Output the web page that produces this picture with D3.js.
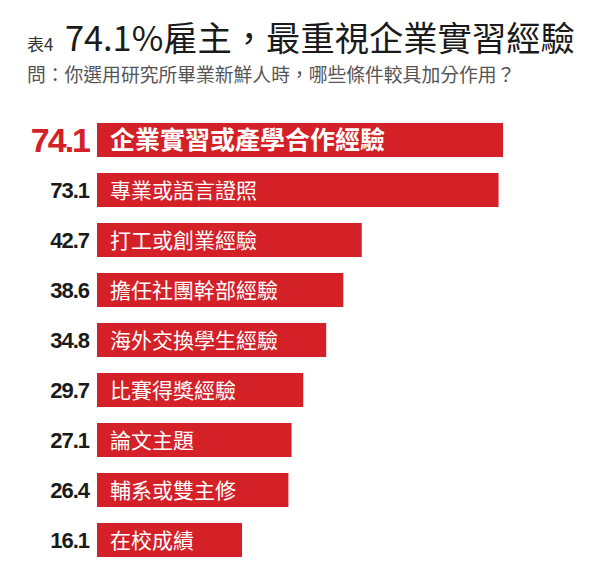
<!DOCTYPE html>
<html><head><meta charset="utf-8">
<script src="https://cdn.jsdelivr.net/npm/d3@7"></script>
<style>body{margin:0;background:#fff;} svg{display:block;}</style>
</head><body>
<script>
const categories = ["企業實習或產學合作經驗","專業或語言證照","打工或創業經驗","擔任社團幹部經驗","海外交換學生經驗","比賽得獎經驗","論文主題","輔系或雙主修","在校成績"];
const values = [74.1,73.1,42.7,38.6,34.8,29.7,27.1,26.4,16.1];
const valueLabels = ["74.1","73.1","42.7","38.6","34.8","29.7","27.1","26.4","16.1"];
const titlePrefix = "表4";
const titleText = "74.1%雇主，最重視企業實習經驗";
const subtitleText = "問：你選用研究所畢業新鮮人時，哪些條件較具加分作用？";

const W = 600, H = 580;
const red = "#d42027";
const cjk = "'Noto Sans CJK TC','Noto Sans CJK SC',sans-serif";
const svg = d3.select("body").append("svg").attr("width", W).attr("height", H);

// title
svg.append("text").attr("x", 27).attr("y", 51).attr("font-family", cjk)
  .attr("font-size", 17).attr("fill", "#333").text(titlePrefix);
svg.append("text").attr("x", 65).attr("y", 51).attr("font-family", cjk)
  .attr("font-size", 34.3).attr("fill", "#1a1a1a").text(titleText);
svg.append("text").attr("x", 27).attr("y", 82).attr("font-family", cjk)
  .attr("font-size", 18.8).attr("fill", "#555").text(subtitleText);

const barLeft = 97;
const x = d3.scaleLinear().domain([0, 100]).range([169.6, 619.6]);
const y = d3.scaleBand().domain(categories).range([115, 565]).paddingInner(0.32).paddingOuter(0.16);

const g = svg.append("g");
const rows = g.selectAll("g.row").data(categories).join("g").attr("class","row");
rows.append("rect")
  .attr("x", barLeft)
  .attr("y", (d) => y(d))
  .attr("width", (d,i) => x(values[i]) - barLeft)
  .attr("height", y.bandwidth())
  .attr("fill", red);
rows.append("text")
  .attr("x", 89)
  .attr("y", (d) => y(d) + y.bandwidth()/2)
  .attr("dy", "0.36em")
  .attr("text-anchor", "end")
  .attr("font-family", "'Liberation Sans', Arial, sans-serif")
  .attr("font-weight", "bold")
  .attr("font-size", (d,i) => i === 0 ? 34 : 22)
  .attr("letter-spacing", (d,i) => i === 0 ? -2 : -1)
  .attr("fill", (d,i) => i === 0 ? red : "#1a1a1a")
  .text((d,i) => valueLabels[i]);
rows.append("text")
  .attr("x", 110)
  .attr("y", (d) => y(d) + y.bandwidth()/2)
  .attr("dy", "0.36em")
  .attr("font-family", cjk)
  .attr("font-weight", (d,i) => i === 0 ? "bold" : "normal")
  .attr("font-size", (d,i) => i === 0 ? 25 : 21)
  .attr("fill", "#fff")
  .text((d) => d);
</script>
</body></html>
